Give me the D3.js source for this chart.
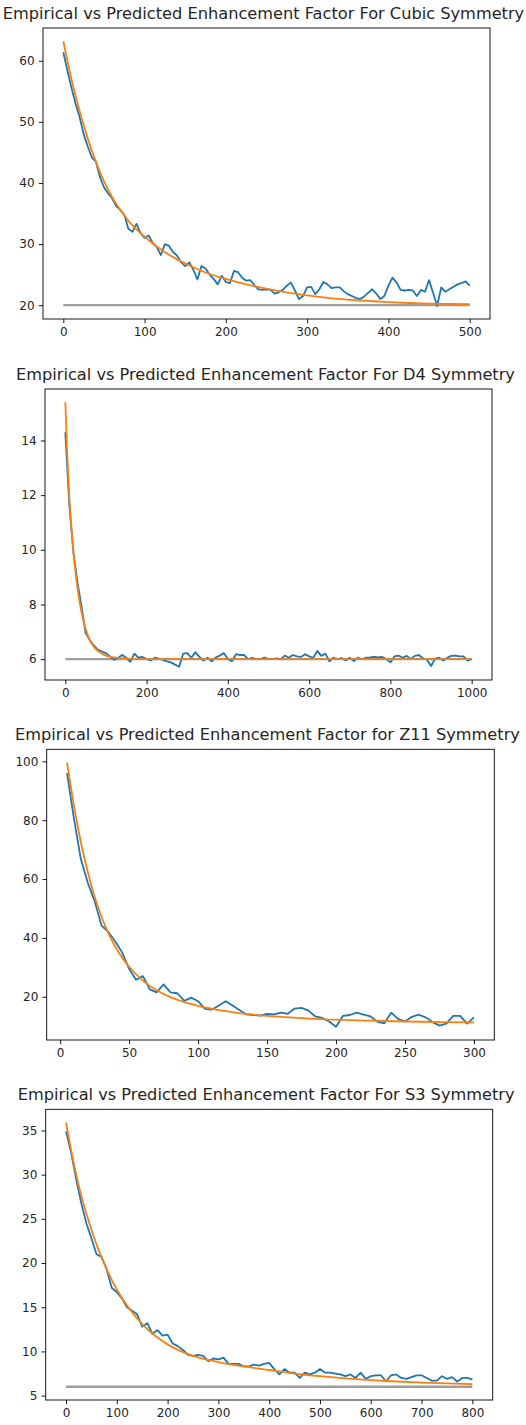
<!DOCTYPE html>
<html>
<head>
<meta charset="utf-8">
<script src="https://cdn.jsdelivr.net/npm/d3@7"></script>
<style>
	body { margin: 0; background: #fff; }
	svg { display: block; }
	text { font-family: "DejaVu Sans", sans-serif; fill: #262626; }
</style>
</head>
<body>
<svg id="chart" width="526" height="1425"></svg>
<script>
// cubic
var cubicEmpirical = [61.4, 58.4, 55.6, 53.0, 50.8, 48.0, 46.0, 44.2, 43.5, 41.0, 39.3, 38.3, 37.5, 36.2, 35.6, 34.8, 32.5, 32.0, 33.3, 31.8,
	31.0, 31.4, 30.2, 29.5, 28.2, 30.0, 29.7, 28.7, 28.1, 27.0, 26.4, 27.0, 25.8, 24.2, 26.4, 26.0, 25.0, 24.3, 23.4, 24.8,
	23.8, 23.6, 25.6, 25.4, 24.5, 24.0, 24.1, 23.3, 22.6, 22.5, 22.6, 22.5, 21.9, 22.1, 22.5, 23.2, 23.7, 22.4, 21.0, 21.5,
	22.9, 23.0, 21.8, 22.6, 23.8, 23.4, 22.8, 22.9, 22.9, 22.3, 21.8, 21.5, 21.2, 21.0, 21.4, 22.0, 22.6, 21.9, 21.0, 21.5,
	23.2, 24.5, 23.7, 22.5, 22.4, 22.5, 22.4, 21.5, 22.5, 22.2, 24.1, 22.0, 19.9, 22.9, 22.2, 22.6, 23.0, 23.4, 23.6, 23.9, 23.2];
var cubicPredX = [0, 10, 20, 30, 40, 50, 60, 70, 80, 90, 100, 120, 140, 160, 180, 200, 225, 250, 275, 300, 325, 350, 375, 400, 425, 450, 475, 500];
var cubicPred = [63.2, 57.0, 51.8, 47.3, 43.5, 40.3, 37.7, 35.6, 33.8, 32.4, 31.2, 29.1, 27.5, 26.2, 25.1, 24.3, 23.4, 22.7, 22.1, 21.6, 21.2, 20.9, 20.7, 20.5, 20.35, 20.25, 20.2, 20.15];
var cubicBase = 20;

// D4
var d4Empirical = [14.3, 11.6, 9.9, 8.8, 7.9, 6.95, 6.7, 6.5, 6.35, 6.28, 6.22, 6.1, 5.97, 6.05, 6.15, 6.05, 5.9, 6.2, 6.05, 6.08,
	6.0, 5.95, 6.05, 6.02, 5.97, 5.92, 5.88, 5.8, 5.72, 6.2, 6.22, 6.05, 6.25, 6.08, 5.95, 6.05, 5.92, 6.06, 6.13, 6.22,
	6.0, 5.92, 6.18, 6.15, 6.15, 6.0, 6.05, 6.0, 6.0, 6.06, 6.0, 6.0, 6.03, 6.0, 6.13, 6.05, 6.15, 6.1, 6.08, 6.18,
	6.1, 6.05, 6.3, 6.12, 6.2, 5.92, 6.05, 6.0, 6.04, 5.95, 6.05, 5.93, 6.05, 6.0, 6.05, 6.06, 6.08, 6.06, 6.08, 6.0,
	5.88, 6.1, 6.13, 6.05, 6.12, 6.0, 6.12, 6.15, 6.03, 5.98, 5.75, 6.02, 6.05, 5.95, 6.05, 6.12, 6.13, 6.1, 6.1, 5.94, 6.0];
var d4PredX = [0, 5, 10, 15, 20, 25, 30, 40, 50, 60, 70, 80, 90, 100, 120, 150, 200, 300, 1000];
var d4Pred = [15.4, 13.4, 11.9, 10.8, 9.9, 9.2, 8.6, 7.7, 7.1, 6.7, 6.45, 6.3, 6.2, 6.13, 6.06, 6.02, 6.0, 6.0, 6.0];
var d4Base = 6;

// Z11
var z11Empirical = [96.0, 80.5, 66.8, 58.8, 52.5, 44.2, 42.0, 38.8, 35.0, 29.5, 25.8, 27.0, 22.5, 21.5, 24.2, 21.5, 21.2, 18.6, 19.7, 18.5,
	15.9, 15.6, 17.0, 18.5, 17.0, 15.5, 14.0, 13.8, 13.6, 14.2, 14.0, 14.6, 14.2, 16.0, 16.2, 15.3, 13.3, 12.8, 11.6, 9.8,
	13.5, 13.8, 14.6, 13.9, 13.3, 11.5, 11.0, 14.6, 12.5, 11.6, 13.2, 13.9, 13.0, 11.4, 10.2, 10.9, 13.5, 13.5, 10.9, 13.0];
var z11PredX = [5, 10, 15, 20, 25, 30, 35, 40, 45, 50, 60, 70, 80, 90, 100, 120, 140, 160, 180, 200, 225, 250, 275, 300];
var z11Pred = [99.6, 85, 72.5, 62.5, 54, 47.2, 41.5, 37, 33.3, 30.2, 25.5, 22.2, 19.9, 18.2, 16.9, 15.1, 13.9, 13.2, 12.6, 12.2, 11.9, 11.6, 11.4, 11.3];

// S3
var s3Empirical = [34.9, 32.5, 29.5, 26.8, 24.5, 22.8, 21.0, 20.7, 19.3, 17.2, 16.7, 16.0, 15.0, 14.6, 14.2, 12.8, 13.2, 12.0, 12.4, 11.8,
	11.9, 10.9, 10.6, 10.2, 9.6, 9.5, 9.6, 9.5, 8.9, 9.2, 9.1, 9.3, 8.6, 8.6, 8.6, 8.3, 8.3, 8.5, 8.4, 8.6,
	8.7, 8.0, 7.4, 8.0, 7.6, 7.6, 7.0, 7.6, 7.4, 7.6, 8.0, 7.6, 7.6, 7.5, 7.4, 7.2, 7.4, 7.0, 7.6, 6.9,
	7.2, 7.3, 7.3, 6.6, 7.3, 7.4, 7.0, 6.9, 7.1, 7.3, 7.3, 7.0, 6.7, 6.7, 7.2, 6.9, 7.1, 6.6, 7.0, 7.0, 6.8];
var s3PredX = [0, 20, 40, 60, 80, 100, 125, 150, 175, 200, 250, 300, 350, 400, 450, 500, 550, 600, 650, 700, 750, 800];
var s3Pred = [35.9, 30.0, 25.6, 22.1, 19.3, 17.0, 14.8, 13.1, 11.8, 10.8, 9.5, 8.8, 8.3, 7.9, 7.5, 7.2, 6.95, 6.75, 6.6, 6.48, 6.38, 6.3];
var s3Base = 6;

var titles = [
	'Empirical vs Predicted Enhancement Factor For Cubic Symmetry',
	'Empirical vs Predicted Enhancement Factor For D4 Symmetry',
	'Empirical vs Predicted Enhancement Factor for Z11 Symmetry',
	'Empirical vs Predicted Enhancement Factor For S3 Symmetry'
];
var xTicks = [[0, 100, 200, 300, 400, 500], [0, 200, 400, 600, 800, 1000], [0, 50, 100, 150, 200, 250, 300], [0, 100, 200, 300, 400, 500, 600, 700, 800]];
var yTicks = [[20, 30, 40, 50, 60], [6, 8, 10, 12, 14], [20, 40, 60, 80, 100], [5, 10, 15, 20, 25, 30, 35]];

(function() {

	var svg = d3.select('#chart');
	var TICK = 4.2;

	var panels = [
		{ box: [43, 28, 490, 319], xs: d3.range(0, 501, 5), ys: cubicEmpirical, px: cubicPredX, py: cubicPred, base: cubicBase },
		{ box: [45, 389, 492, 680], xs: d3.range(0, 1001, 10), ys: d4Empirical, px: d4PredX, py: d4Pred, base: d4Base },
		{ box: [46.7, 749.3, 494.3, 1040], xs: d3.range(5, 301, 5), ys: z11Empirical, px: z11PredX, py: z11Pred, base: null },
		{ box: [45.7, 1109.3, 492.7, 1400], xs: d3.range(0, 801, 10), ys: s3Empirical, px: s3PredX, py: s3Pred, base: s3Base }
	];

	panels.forEach(function(p, i) { drawPanel(p, i); });

	function padded(lo, hi) {
		var m = (hi - lo) * 0.05;
		return [lo - m, hi + m];
	}

	function drawPanel(p, i) {
		var left = p.box[0], top = p.box[1], right = p.box[2], bottom = p.box[3];
		var allX = p.xs.concat(p.px);
		var allY = p.ys.concat(p.py);
		if (p.base != null) allY.push(p.base);

		var x = d3.scaleLinear().domain(padded(d3.min(allX), d3.max(allX))).range([left, right]);
		var y = d3.scaleLinear().domain(padded(d3.min(allY), d3.max(allY))).range([bottom, top]);

		var g = svg.append('g');

		var line = d3.line().x(function(d) { return x(d[0]); }).y(function(d) { return y(d[1]); });

		if (p.base != null) {
			var xr = d3.extent(p.xs);
			g.append('path')
				.attr('d', line([[xr[0], p.base], [xr[1], p.base]]))
				.attr('fill', 'none').attr('stroke', '#9e9e9e').attr('stroke-width', 2.4);
		}

		g.append('path')
			.attr('d', line(p.xs.map(function(v, k) { return [v, p.ys[k]]; })))
			.attr('fill', 'none').attr('stroke', '#1f77b4').attr('stroke-width', 1.8)
			.attr('stroke-linejoin', 'round');

		g.append('path')
			.attr('d', line.curve(d3.curveMonotoneX)(p.px.map(function(v, k) { return [v, p.py[k]]; })))
			.attr('fill', 'none').attr('stroke', '#ff7f0e').attr('stroke-width', 1.8);

		g.append('g')
			.attr('transform', 'translate(0,' + bottom + ')')
			.call(d3.axisBottom(x).tickValues(xTicks[i]).tickSize(TICK).tickPadding(TICK).tickFormat(d3.format('d')))
			.call(styleAxis);

		g.append('g')
			.attr('transform', 'translate(' + left + ',0)')
			.call(d3.axisLeft(y).tickValues(yTicks[i]).tickSize(TICK).tickPadding(TICK).tickFormat(d3.format('d')))
			.call(styleAxis);

		g.append('rect')
			.attr('x', left).attr('y', top)
			.attr('width', right - left).attr('height', bottom - top)
			.attr('fill', 'none').attr('stroke', '#000').attr('stroke-width', 0.9);

		g.append('text')
			.attr('x', (left + right) / 2 - 3)
			.attr('y', top - 9)
			.attr('text-anchor', 'middle')
			.style('font-size', '16.2px')
			.text(titles[i]);
	}

	function styleAxis(a) {
		a.select('.domain').remove();
		a.selectAll('.tick line').attr('stroke', '#000').attr('stroke-width', 0.9);
		a.selectAll('.tick text').style('font-size', '12px').style('font-family', '"DejaVu Sans", sans-serif').attr('fill', '#262626');
	}
}());
</script>
</body>
</html>
